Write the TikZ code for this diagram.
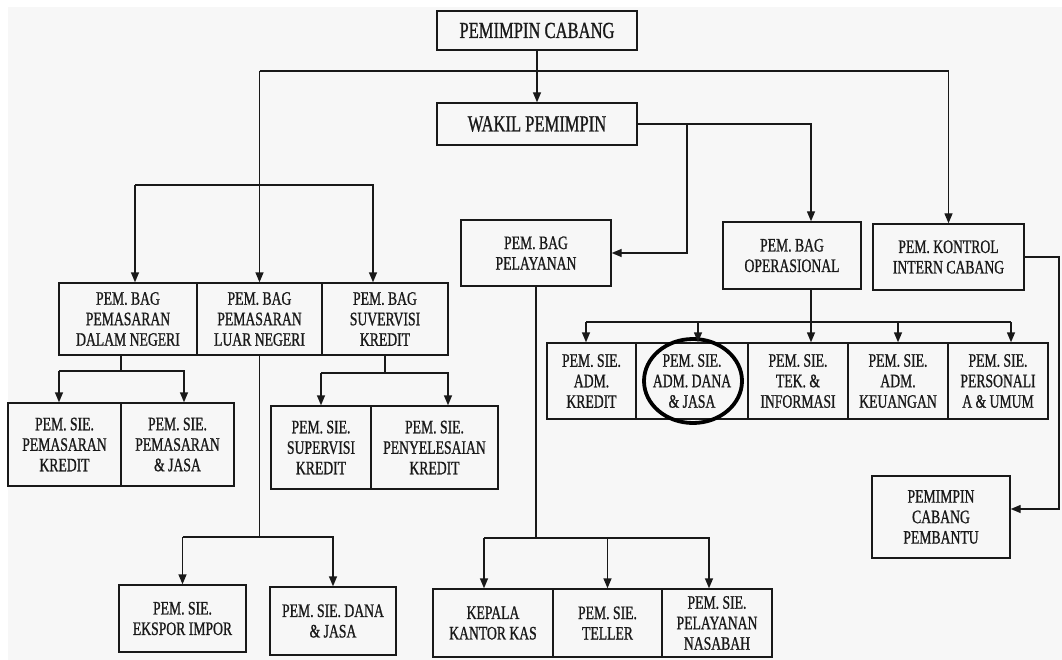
\documentclass[tikz,border=0pt]{standalone}
\usepackage{fontspec}
\setmainfont{Liberation Serif}[FakeStretch=0.72,FakeBold=0.9]
\usetikzlibrary{arrows.meta,shapes.geometric}
\definecolor{paper}{RGB}{247,247,247}
\definecolor{ink}{RGB}{25,25,25}
\newcommand{\obox}[7][box]{\node[#1, minimum width={(#5-#3)*1pt}, minimum height={(#6-#4)*1pt}] (#2) at ({(#3+#5)/2},{(#4+#6)/2}) {#7};}
\begin{document}
\begin{tikzpicture}[x=1pt,y=-1pt,
  box/.style={draw=ink, text=ink, line width=1.4pt, inner sep=0pt, align=center, font=\fontsize{19}{20.5}\selectfont},
  bigbox/.style={box, font=\fontsize{23}{25}\selectfont},
  conn/.style={draw=ink, line width=1.4pt},
  arr/.style={conn, -{Triangle[length=10pt,width=8pt]}}]
\useasboundingbox (0,0) rectangle (1062,660);
\fill[paper] (8,7) rectangle (1062,660);

% boxes
\obox[bigbox]{pc}{437}{11}{637}{50}{PEMIMPIN CABANG}
\obox[bigbox]{wk}{437}{103}{637}{145}{WAKIL PEMIMPIN}
\obox{dn}{59}{283}{197}{355}{PEM. BAG\\PEMASARAN\\DALAM NEGERI}
\obox{ln}{197}{283}{322}{355}{PEM. BAG\\PEMASARAN\\LUAR NEGERI}
\obox{sk}{322}{283}{448}{355}{PEM. BAG\\SUVERVISI\\KREDIT}
\obox{pl}{461}{220}{611}{286}{PEM. BAG\\PELAYANAN}
\obox{op}{723}{222}{861}{289}{PEM. BAG\\OPERASIONAL}
\obox{ki}{873}{224}{1024}{290}{PEM. KONTROL\\INTERN CABANG}
\obox{pk}{8}{403}{121}{486}{PEM. SIE.\\PEMASARAN\\KREDIT}
\obox{pj}{121}{403}{234}{486}{PEM. SIE.\\PEMASARAN\\\& JASA}
\obox{sv}{271}{406}{371}{489}{PEM. SIE.\\SUPERVISI\\KREDIT}
\obox{pn}{371}{406}{498}{489}{PEM. SIE.\\PENYELESAIAN\\KREDIT}
\obox{ei}{119}{585}{246}{652}{PEM. SIE.\\EKSPOR IMPOR}
\obox{dj}{270}{587}{396}{655}{PEM. SIE. DANA\\\& JASA}
\obox{kk}{433}{589}{553}{657}{KEPALA\\KANTOR KAS}
\obox{te}{553}{589}{662}{657}{PEM. SIE.\\TELLER}
\obox{ns}{662}{589}{772}{657}{PEM. SIE.\\PELAYANAN\\NASABAH}
\obox{ak}{547}{343}{636}{419}{PEM. SIE.\\ADM.\\KREDIT}
\obox{ad}{636}{343}{748}{419}{PEM. SIE.\\ADM. DANA\\\& JASA}
\obox{ti}{748}{343}{848}{419}{PEM. SIE.\\TEK. \&\\INFORMASI}
\obox{ku}{848}{343}{948}{419}{PEM. SIE.\\ADM.\\KEUANGAN}
\obox{pu}{948}{343}{1048}{419}{PEM. SIE.\\PERSONALI\\A \& UMUM}
\obox{pcp}{872}{476}{1010}{558}{PEMIMPIN\\CABANG\\PEMBANTU}

\node[ellipse, draw=black, line width=3.8pt, minimum width=98pt, minimum height=84pt, inner sep=0pt] (ring) at ([xshift=1pt]ad) {};

% top level
\draw[arr] (pc) -- (wk);
\coordinate (bar1) at (0,71);
\draw[arr] (ln.north |- bar1) -| (ki.north);
\draw[arr] (ln.north |- bar1) -- (ln.north);
\coordinate (bar2) at (0,185);
\coordinate (dnin) at ([xshift=7pt]dn.north);
\coordinate (skin) at ([xshift=-12pt]sk.north);
\draw[arr] (dnin |- bar2) -- (dnin);
\draw[arr] (dnin |- bar2) -| (skin);

% wakil
\coordinate (opin) at ([xshift=19pt]op.north);
\draw[arr] (wk.east) -| (opin);
\coordinate (jw) at (687,0);
\draw[arr] (wk.east -| jw) |- (pl.east);

% kontrol -> pembantu
\coordinate (rx) at (1059,0);
\coordinate (pcpin) at ([yshift=8pt]pcp.east);
\draw[arr] (ki.east) -- (ki.east -| rx) |- (pcpin);

% operasional -> row
\coordinate (opout) at ([xshift=19pt]op.south);
\coordinate (bar3) at (0,322);
\coordinate (akin) at ([xshift=-5.5pt]ak.north);
\coordinate (adin) at ([xshift=6pt]ad.north);
\coordinate (tiin) at ([xshift=13pt]ti.north);
\coordinate (kuin) at (ku.north);
\coordinate (puin) at ([xshift=13pt]pu.north);
\draw[conn] (opout) -- (opout |- bar3);
\draw[conn] (akin |- bar3) -- (puin |- bar3);
\foreach \c in {akin,adin,tiin,kuin,puin} \draw[arr] (\c |- bar3) -- (\c);

% dalam negeri -> children
\coordinate (dnout) at ([xshift=-7pt]dn.south);
\coordinate (bar4) at (0,371);
\coordinate (pkin) at ([xshift=-5.5pt]pk.north);
\coordinate (pjin) at ([xshift=6.5pt]pj.north);
\draw[conn] (dnout) -- (dnout |- bar4);
\draw[arr] (pkin |- bar4) -- (pkin);
\draw[arr] (pkin |- bar4) -| (pjin);

% suvervisi -> children
\coordinate (bar5) at (0,373);
\coordinate (pnin) at ([xshift=13.5pt]pn.north);
\draw[conn] (sk.south) -- (sk.south |- bar5);
\draw[arr] (sv.north |- bar5) -- (sv.north);
\draw[arr] (sv.north |- bar5) -| (pnin);

% luar negeri -> children
\coordinate (bar6) at (0,537);
\draw[conn] (ln.south) -- (ln.south |- bar6);
\draw[arr] (ei.north |- bar6) -- (ei.north);
\draw[arr] (ei.north |- bar6) -| (dj.north);

% pelayanan -> children
\coordinate (bar7) at (0,538);
\coordinate (kkin) at ([xshift=-9pt]kk.north);
\coordinate (nsin) at ([xshift=-8pt]ns.north);
\draw[conn] (pl.south) -- (pl.south |- bar7);
\draw[arr] (kkin |- bar7) -- (kkin);
\draw[arr] (te.north |- bar7) -- (te.north);
\draw[arr] (kkin |- bar7) -| (nsin);
\end{tikzpicture}
\end{document}
